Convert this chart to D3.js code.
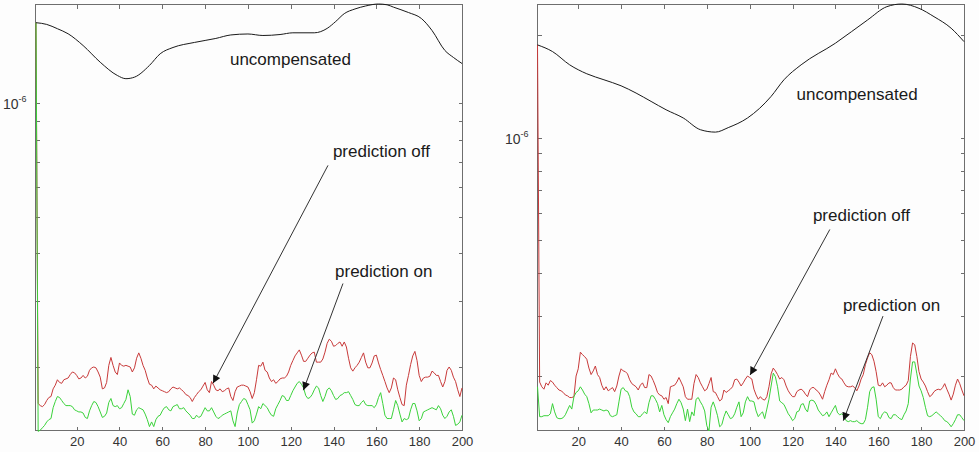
<!DOCTYPE html>
<html><head><meta charset="utf-8">
<script src="https://cdn.jsdelivr.net/npm/d3@7"></script>
<style>
body{margin:0;background:#fdfdfd;}
svg{display:block;font-family:"Liberation Sans",Arial,Helvetica,sans-serif;}
</style></head><body>
<svg id="chart" width="979" height="452"></svg>
<script>
// ---- data (values in units of 1e-6) ----
const xIndex = d3.range(1, 201);
const xTicks = [20, 40, 60, 80, 100, 120, 140, 160, 180, 200];
const leftYTicks = [0.2, 0.3, 0.4, 0.5, 0.6, 0.7, 0.8, 0.9, 1];
const rightYTicks = [0.2, 0.3, 0.4, 0.5, 0.6, 0.7, 0.8, 0.9, 1, 2];
const majorTickLabel = ["10", "-6"];

const leftUncompX = [1,6,11,16,23,31,39,43,47,54,59,65,75,85,92,100,107,115,121,131,137,141,145,150,155,161,165,168,175,181,186,192,196,200];
const leftUncomp  = [1.637,1.620,1.578,1.530,1.424,1.286,1.186,1.163,1.174,1.261,1.354,1.407,1.451,1.487,1.519,1.528,1.514,1.523,1.539,1.539,1.581,1.649,1.730,1.780,1.813,1.835,1.826,1.800,1.742,1.680,1.561,1.382,1.324,1.276];

const leftOff = [
1.637,0.160,0.158,0.157,0.159,0.163,0.166,0.167,0.175,0.179,
0.185,0.182,0.181,0.185,0.186,0.187,0.191,0.194,0.193,0.190,
0.186,0.187,0.190,0.187,0.189,0.196,0.199,0.200,0.199,0.194,
0.188,0.175,0.176,0.182,0.202,0.212,0.202,0.194,0.191,0.205,
0.202,0.201,0.202,0.201,0.200,0.194,0.199,0.211,0.218,0.211,
0.202,0.196,0.187,0.180,0.179,0.175,0.178,0.176,0.174,0.173,
0.172,0.171,0.172,0.175,0.177,0.176,0.175,0.176,0.174,0.172,
0.169,0.168,0.166,0.162,0.166,0.169,0.172,0.174,0.178,0.182,
0.174,0.171,0.183,0.179,0.174,0.173,0.175,0.172,0.173,0.175,
0.176,0.167,0.163,0.172,0.177,0.178,0.179,0.179,0.178,0.177,
0.172,0.165,0.171,0.185,0.202,0.201,0.206,0.196,0.194,0.187,
0.183,0.185,0.181,0.183,0.186,0.187,0.187,0.189,0.194,0.202,
0.208,0.214,0.218,0.222,0.215,0.207,0.207,0.211,0.215,0.218,
0.219,0.206,0.206,0.206,0.210,0.219,0.231,0.237,0.234,0.227,
0.228,0.231,0.233,0.227,0.233,0.226,0.211,0.199,0.195,0.199,
0.202,0.206,0.212,0.218,0.206,0.199,0.199,0.205,0.214,0.215,
0.205,0.197,0.190,0.183,0.176,0.171,0.176,0.187,0.185,0.174,
0.166,0.159,0.158,0.179,0.190,0.203,0.214,0.220,0.208,0.190,
0.183,0.187,0.188,0.188,0.189,0.195,0.193,0.190,0.190,0.183,
0.177,0.183,0.196,0.200,0.196,0.188,0.183,0.174,0.167,0.176];

const leftOn = [
1.637,0.135,0.136,0.138,0.140,0.143,0.145,0.146,0.156,0.162,
0.167,0.166,0.163,0.160,0.158,0.158,0.158,0.157,0.154,0.153,
0.152,0.152,0.151,0.147,0.146,0.153,0.158,0.162,0.161,0.157,
0.152,0.147,0.148,0.151,0.161,0.165,0.158,0.157,0.158,0.155,
0.156,0.160,0.164,0.174,0.167,0.150,0.149,0.154,0.156,0.155,
0.154,0.150,0.145,0.139,0.143,0.139,0.145,0.148,0.149,0.153,
0.156,0.157,0.154,0.153,0.157,0.158,0.159,0.155,0.155,0.156,
0.153,0.151,0.149,0.146,0.146,0.149,0.147,0.148,0.152,0.156,
0.153,0.153,0.156,0.152,0.148,0.146,0.147,0.149,0.150,0.151,
0.152,0.153,0.144,0.139,0.151,0.159,0.162,0.165,0.164,0.159,
0.154,0.142,0.144,0.150,0.157,0.155,0.160,0.158,0.156,0.152,
0.149,0.148,0.155,0.159,0.163,0.168,0.167,0.163,0.163,0.168,
0.173,0.177,0.181,0.183,0.180,0.176,0.168,0.165,0.166,0.169,
0.174,0.178,0.176,0.168,0.162,0.167,0.174,0.176,0.173,0.168,
0.164,0.165,0.168,0.169,0.171,0.171,0.172,0.168,0.164,0.159,
0.158,0.158,0.161,0.163,0.159,0.158,0.158,0.158,0.156,0.159,
0.166,0.171,0.160,0.149,0.146,0.146,0.146,0.154,0.163,0.158,
0.150,0.143,0.146,0.145,0.146,0.154,0.160,0.160,0.153,0.144,
0.146,0.152,0.153,0.154,0.155,0.156,0.155,0.154,0.158,0.155,
0.149,0.146,0.148,0.152,0.154,0.148,0.140,0.141,0.143,0.149];

const rightUncompX = [1,8,16,24,32,40,47,54,61,69,77,84,90,99,110,116,124,140,155,164,171,179,186,194,200];
const rightUncomp  = [1.870,1.788,1.635,1.539,1.478,1.419,1.351,1.277,1.207,1.142,1.055,1.038,1.070,1.142,1.321,1.478,1.635,1.892,2.213,2.421,2.465,2.394,2.263,2.093,1.912];

const rightOff = [
1.870,0.192,0.186,0.183,0.191,0.188,0.194,0.192,0.188,0.185,
0.182,0.181,0.179,0.176,0.175,0.173,0.173,0.174,0.200,0.210,
0.235,0.231,0.228,0.224,0.211,0.202,0.207,0.214,0.202,0.198,
0.188,0.182,0.186,0.181,0.183,0.185,0.180,0.187,0.200,0.210,
0.207,0.206,0.203,0.195,0.190,0.188,0.186,0.182,0.188,0.191,
0.185,0.185,0.202,0.200,0.194,0.187,0.179,0.176,0.175,0.171,
0.173,0.166,0.186,0.187,0.188,0.192,0.198,0.192,0.186,0.174,
0.171,0.171,0.171,0.190,0.202,0.198,0.191,0.186,0.181,0.183,
0.190,0.198,0.180,0.179,0.174,0.169,0.171,0.182,0.179,0.181,
0.183,0.186,0.195,0.196,0.192,0.187,0.191,0.196,0.200,0.198,
0.196,0.183,0.176,0.171,0.174,0.171,0.170,0.174,0.186,0.203,
0.211,0.207,0.202,0.196,0.198,0.195,0.187,0.181,0.177,0.174,
0.174,0.180,0.182,0.183,0.181,0.177,0.174,0.182,0.185,0.185,
0.182,0.180,0.176,0.171,0.180,0.188,0.195,0.204,0.202,0.210,
0.203,0.198,0.196,0.191,0.187,0.186,0.186,0.187,0.185,0.181,
0.187,0.196,0.202,0.216,0.226,0.234,0.231,0.221,0.206,0.188,
0.187,0.191,0.186,0.188,0.191,0.191,0.185,0.182,0.182,0.182,
0.183,0.186,0.188,0.194,0.228,0.250,0.247,0.228,0.206,0.196,
0.192,0.187,0.180,0.174,0.176,0.180,0.182,0.183,0.182,0.185,
0.190,0.183,0.177,0.170,0.177,0.188,0.196,0.190,0.182,0.175];

const rightOn = [
0.186,0.152,0.152,0.153,0.153,0.153,0.155,0.166,0.157,0.151,
0.150,0.150,0.151,0.154,0.159,0.164,0.160,0.174,0.179,0.181,
0.186,0.182,0.177,0.174,0.166,0.156,0.159,0.159,0.159,0.160,
0.159,0.158,0.159,0.158,0.153,0.152,0.153,0.154,0.168,0.183,
0.185,0.181,0.180,0.174,0.162,0.157,0.155,0.152,0.152,0.155,
0.157,0.155,0.167,0.175,0.175,0.171,0.166,0.157,0.164,0.154,
0.149,0.146,0.152,0.156,0.160,0.166,0.171,0.167,0.160,0.148,
0.160,0.147,0.157,0.153,0.171,0.173,0.168,0.164,0.158,0.143,
0.138,0.162,0.168,0.161,0.153,0.142,0.144,0.152,0.158,0.154,
0.150,0.151,0.155,0.162,0.168,0.152,0.156,0.168,0.174,0.169,
0.169,0.168,0.158,0.152,0.155,0.157,0.150,0.160,0.171,0.187,
0.204,0.199,0.186,0.169,0.167,0.165,0.160,0.155,0.152,0.148,
0.150,0.157,0.158,0.165,0.166,0.160,0.157,0.169,0.170,0.169,
0.165,0.159,0.156,0.153,0.154,0.157,0.152,0.156,0.160,0.164,
0.156,0.154,0.155,0.153,0.148,0.147,0.148,0.147,0.147,0.148,
0.146,0.145,0.145,0.149,0.162,0.180,0.185,0.186,0.171,0.152,
0.150,0.155,0.157,0.156,0.151,0.150,0.154,0.154,0.152,0.150,
0.149,0.154,0.158,0.166,0.196,0.220,0.220,0.203,0.187,0.181,
0.173,0.162,0.153,0.152,0.153,0.155,0.157,0.155,0.153,0.151,
0.148,0.147,0.145,0.142,0.145,0.149,0.154,0.154,0.151,0.148];

// annotations (data coordinates)
const leftNotes = [
  {text: "uncompensated", x: 91.6, v: 1.261},
  {text: "prediction off", x: 139.7, v: 0.719},
  {text: "prediction on", x: 140.7, v: 0.346}];
const leftArrows = [
  {x1: 137.4, v1: 0.685, x2: 83.7, v2: 0.181},
  {x1: 144.4, v1: 0.333, x2: 125.9, v2: 0.1736}];
const rightNotes = [
  {text: "uncompensated", x: 121.9, v: 1.291},
  {text: "prediction off", x: 129.5, v: 0.568},
  {text: "prediction on", x: 143.5, v: 0.310}];
const rightArrows = [
  {x1: 137.4, v1: 0.538, x2: 100.2, v2: 0.2014},
  {x1: 162.2, v1: 0.2997, x2: 143.7, v2: 0.148}];

// ---- drawing ----
const svg = d3.select("#chart");
const defs = svg.append("defs");
defs.append("marker").attr("id", "ah").attr("viewBox", "0 0 10 10")
  .attr("refX", 10).attr("refY", 5).attr("markerWidth", 9).attr("markerHeight", 8)
  .attr("markerUnits", "userSpaceOnUse").attr("orient", "auto")
  .append("path").attr("d", "M0,0 L10,5 L0,10 Z").attr("fill", "#111");

const AX = "#6e6e6e";

function drawPanel(p) {
  const x = d3.scaleLinear().domain([1, 200]).range(p.xr);
  const y = d3.scaleLog().domain(p.yd).range([431, 4]);
  const g = svg.append("g");

  // frame
  const L = Math.round(x(1)) - 0.5, R = Math.round(x(200)) + 0.5;
  g.append("rect").attr("x", L).attr("y", 4.5).attr("width", R - L).attr("height", 426)
    .attr("fill", "none").attr("stroke", AX).attr("stroke-width", 1);

  const styleAxis = sel => {
    sel.select(".domain").remove();
    sel.selectAll(".tick line").attr("stroke", AX).attr("shape-rendering", "crispEdges");
    sel.selectAll("text").attr("fill", "#333").attr("font-size", 13)
      .attr("font-family", '"Liberation Sans",Arial,sans-serif');
  };
  g.append("g").attr("transform", "translate(0,430.5)")
    .call(d3.axisBottom(x).tickValues(p.xt).tickSize(-4).tickPadding(6).tickFormat(d3.format("d")))
    .call(styleAxis);
  g.append("g").attr("transform", "translate(0,4.5)")
    .call(d3.axisTop(x).tickValues(p.xt).tickSize(-4).tickFormat(""))
    .call(styleAxis);
  g.append("g").attr("transform", `translate(${L},0)`)
    .call(d3.axisLeft(y).tickValues(p.yt).tickSize(-4).tickFormat(""))
    .call(styleAxis);
  g.append("g").attr("transform", `translate(${R},0)`)
    .call(d3.axisRight(y).tickValues(p.yt).tickSize(-4).tickFormat(""))
    .call(styleAxis);

  // 10^-6 label
  const lab = g.append("text").attr("x", L - 9).attr("y", y(1) + 6)
    .attr("text-anchor", "end").attr("fill", "#333").attr("font-size", 14);
  lab.append("tspan").text(majorTickLabel[0]);
  lab.append("tspan").attr("font-size", 9).attr("dy", -7).text(majorTickLabel[1]);

  // lines
  const line = d3.line().x((d, i) => x(xIndex[i])).y(d => y(d));
  g.append("path").datum(p.off).attr("d", line).attr("fill", "none")
    .attr("stroke", "#c83a3a").attr("stroke-width", 1);
  g.append("path").datum(p.on).attr("d", line).attr("fill", "none")
    .attr("stroke", "#3ad23a").attr("stroke-width", 1);
  const uLine = d3.line().x(d => x(d[0])).y(d => y(d[1])).curve(d3.curveMonotoneX);
  g.append("path").datum(d3.zip(p.ux, p.u)).attr("d", uLine).attr("fill", "none")
    .attr("stroke", "#1a1a1a").attr("stroke-width", 1);

  // annotations
  g.selectAll("text.note").data(p.notes).join("text").attr("class", "note")
    .attr("x", d => x(d.x)).attr("y", d => y(d.v))
    .attr("font-size", 17).attr("fill", "#1a1a1a").text(d => d.text);
  g.selectAll("line.arr").data(p.arrows).join("line").attr("class", "arr")
    .attr("x1", d => x(d.x1)).attr("y1", d => y(d.v1))
    .attr("x2", d => x(d.x2)).attr("y2", d => y(d.v2))
    .attr("stroke", "#333").attr("stroke-width", 1).attr("marker-end", "url(#ah)");
}

drawPanel({xr: [36, 462], yd: [0.1353, 1.835], xt: xTicks, yt: leftYTicks,
  off: leftOff, on: leftOn, ux: leftUncompX, u: leftUncomp, notes: leftNotes, arrows: leftArrows});
drawPanel({xr: [537.5, 964], yd: [0.138, 2.465], xt: xTicks, yt: rightYTicks,
  off: rightOff, on: rightOn, ux: rightUncompX, u: rightUncomp, notes: rightNotes, arrows: rightArrows});
</script>
</body></html>
